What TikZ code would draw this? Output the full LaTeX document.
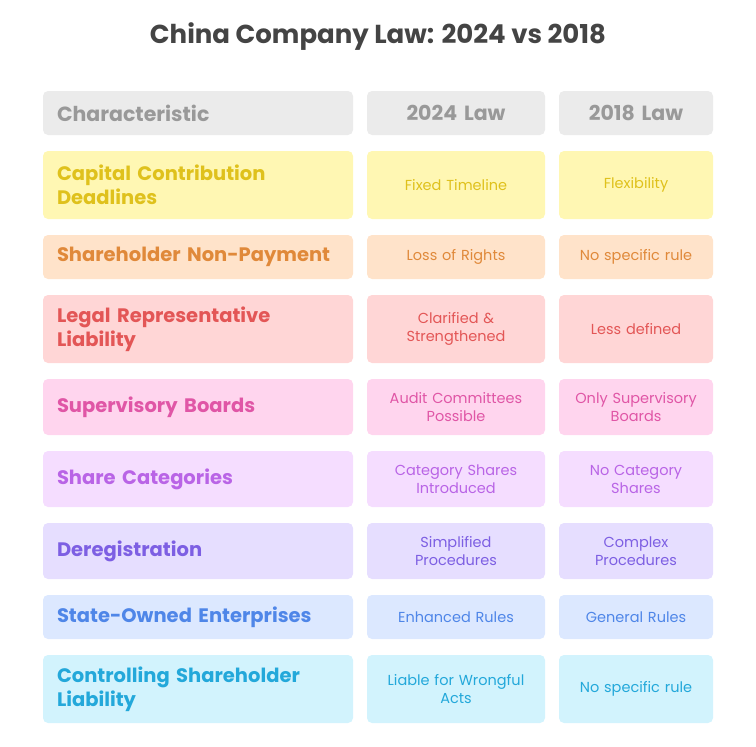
\documentclass[tikz,border=0pt]{standalone}
\usepackage{fontspec}
\setmainfont{Poppins}

\definecolor{titletext}{HTML}{444444}
\definecolor{headfill}{HTML}{EBEBEB}
\definecolor{headtext}{HTML}{999999}
\definecolor{yelfill}{HTML}{FFF7B3}
\definecolor{yeltext}{HTML}{DFC11C}
\definecolor{orafill}{HTML}{FFE3CA}
\definecolor{oratext}{HTML}{E0893A}
\definecolor{redfill}{HTML}{FFD6D6}
\definecolor{redtext}{HTML}{E35656}
\definecolor{pinfill}{HTML}{FFD5EE}
\definecolor{pintext}{HTML}{E056A6}
\definecolor{purfill}{HTML}{F5DDFF}
\definecolor{purtext}{HTML}{B964E6}
\definecolor{viofill}{HTML}{E6DEFF}
\definecolor{viotext}{HTML}{7D5FE3}
\definecolor{blufill}{HTML}{DCE8FF}
\definecolor{blutext}{HTML}{4F86E8}
\definecolor{cyafill}{HTML}{D2F3FD}
\definecolor{cyatext}{HTML}{23A8DA}

\begin{document}
\begin{tikzpicture}[x=1pt, y=-1pt]
  \tikzstyle{cell}=[rounded corners=5pt, inner ysep=0pt, inner xsep=10pt]
  \tikzstyle{keycell}=[cell, text width=282pt, inner xsep=14pt, align=left,
    font=\fontsize{19.5}{24}\selectfont\bfseries]
  \tikzstyle{newcell}=[cell, text width=158pt, align=center,
    font=\fontsize{14.5}{18}\selectfont]
  \tikzstyle{oldcell}=[cell, text width=134pt, align=center,
    font=\fontsize{14.5}{18}\selectfont]
  \tikzstyle{headcell}=[fill=headfill, text=headtext,
    font=\fontsize{20.5}{24}\selectfont\bfseries]
  \tikzstyle{shortrow}=[minimum height=44pt]
  \tikzstyle{midrow}=[minimum height=56pt]
  \tikzstyle{tallrow}=[minimum height=68pt]

  \useasboundingbox (0, 0) rectangle (756, 747);

  \node[text=titletext, font=\fontsize{26}{30}\selectfont\bfseries] (title) at (378, 37)
    {China Company Law: 2024 vs 2018};

  % header
  \node[keycell, headcell, shortrow] (head1) at (198, 113) {Characteristic};
  \node[newcell, headcell, shortrow] (head2) at (456, 113) {2024 Law};
  \node[oldcell, headcell, shortrow] (head3) at (636, 113) {2018 Law};

  % rows
  \node[keycell, tallrow, fill=yelfill, text=yeltext] (cap1) at (198, 185) {Capital Contribution\\Deadlines};
  \node[newcell, tallrow, fill=yelfill, text=yeltext] (cap2) at (456, 185) {Fixed Timeline};
  \node[oldcell, tallrow, fill=yelfill, text=yeltext] (cap3) at (636, 185) {Flexibility};

  \node[keycell, shortrow, fill=orafill, text=oratext] (pay1) at (198, 257) {Shareholder Non-Payment};
  \node[newcell, shortrow, fill=orafill, text=oratext] (pay2) at (456, 257) {Loss of Rights};
  \node[oldcell, shortrow, fill=orafill, text=oratext] (pay3) at (636, 257) {No specific rule};

  \node[keycell, tallrow, fill=redfill, text=redtext] (rep1) at (198, 329) {Legal Representative\\Liability};
  \node[newcell, tallrow, fill=redfill, text=redtext] (rep2) at (456, 329) {Clarified \&\\Strengthened};
  \node[oldcell, tallrow, fill=redfill, text=redtext] (rep3) at (636, 329) {Less defined};

  \node[keycell, midrow, fill=pinfill, text=pintext] (sup1) at (198, 407) {Supervisory Boards};
  \node[newcell, midrow, fill=pinfill, text=pintext] (sup2) at (456, 407) {Audit Committees\\Possible};
  \node[oldcell, midrow, fill=pinfill, text=pintext] (sup3) at (636, 407) {Only Supervisory\\Boards};

  \node[keycell, midrow, fill=purfill, text=purtext] (sha1) at (198, 479) {Share Categories};
  \node[newcell, midrow, fill=purfill, text=purtext] (sha2) at (456, 479) {Category Shares\\Introduced};
  \node[oldcell, midrow, fill=purfill, text=purtext] (sha3) at (636, 479) {No Category\\Shares};

  \node[keycell, midrow, fill=viofill, text=viotext] (dereg1) at (198, 551) {Deregistration};
  \node[newcell, midrow, fill=viofill, text=viotext] (dereg2) at (456, 551) {Simplified\\Procedures};
  \node[oldcell, midrow, fill=viofill, text=viotext] (dereg3) at (636, 551) {Complex\\Procedures};

  \node[keycell, shortrow, fill=blufill, text=blutext] (soe1) at (198, 617) {State-Owned Enterprises};
  \node[newcell, shortrow, fill=blufill, text=blutext] (soe2) at (456, 617) {Enhanced Rules};
  \node[oldcell, shortrow, fill=blufill, text=blutext] (soe3) at (636, 617) {General Rules};

  \node[keycell, tallrow, fill=cyafill, text=cyatext] (ctl1) at (198, 689) {Controlling Shareholder\\Liability};
  \node[newcell, tallrow, fill=cyafill, text=cyatext] (ctl2) at (456, 689) {Liable for Wrongful\\Acts};
  \node[oldcell, tallrow, fill=cyafill, text=cyatext] (ctl3) at (636, 689) {No specific rule};
\end{tikzpicture}
\end{document}
